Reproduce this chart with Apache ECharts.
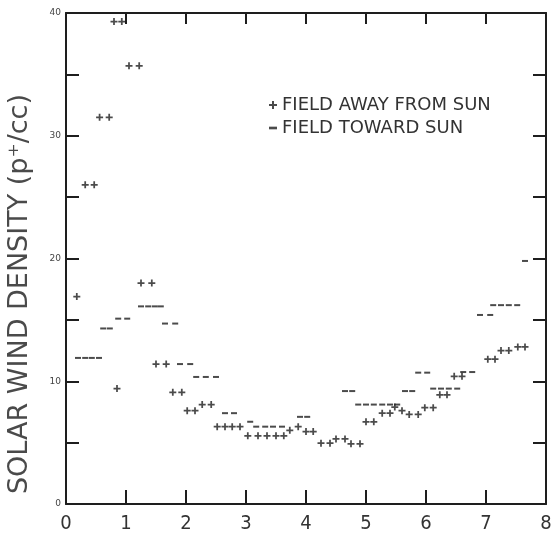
<!DOCTYPE html>
<html><head><meta charset="utf-8">
<script src="https://cdn.jsdelivr.net/npm/echarts@6/dist/echarts.min.js"></script>
<style>html,body{margin:0;padding:0;background:#fff}#c{width:560px;height:536px}</style>
</head><body><div id="c"></div>
<script>
// "+" marks: field away from sun
const awayX = [0.18, 0.32,0.47, 0.56,0.72, 0.80,0.93, 0.85, 1.05,1.22, 1.25,1.43, 1.50,1.67, 1.78,1.93,
  2.02,2.15, 2.27,2.42, 2.52,2.65,2.77,2.90, 3.03,3.20,3.35,3.50,3.63, 3.73, 3.87, 4.00,4.12,
  4.25,4.40, 4.50,4.65, 4.75,4.90, 5.00,5.13, 5.27,5.40, 5.48,5.60, 5.72,5.87, 5.98,6.12,
  6.23,6.35, 6.47,6.60, 7.03,7.15, 7.25,7.38, 7.53,7.65];
const awayY = [16.9, 26.0,26.0, 31.5,31.5, 39.3,39.3, 9.4, 35.7,35.7, 18.0,18.0, 11.4,11.4, 9.1,9.1,
  7.6,7.6, 8.1,8.1, 6.3,6.3,6.3,6.3, 5.55,5.55,5.55,5.55,5.55, 6.0, 6.3, 5.9,5.9,
  4.95,4.95, 5.3,5.3, 4.9,4.9, 6.7,6.7, 7.4,7.4, 7.9,7.6, 7.3,7.3, 7.85,7.85,
  8.9,8.9, 10.4,10.4, 11.8,11.8, 12.5,12.5, 12.8,12.8];
// "-" marks: field toward sun
const towardX = [0.20,0.32,0.43,0.55, 0.62,0.73, 0.87,1.02, 1.25,1.37,1.48,1.58, 1.65,1.82, 1.90,2.07,
  2.17,2.33,2.50, 2.65,2.80, 3.07, 3.17,3.32,3.45,3.60, 3.90,4.02, 4.65,4.77,
  4.87,5.00,5.13,5.27,5.40,5.52, 5.65,5.77, 5.87,6.02, 6.12,6.25,6.38,6.52, 6.62,6.77,
  6.90,7.07, 7.12,7.25,7.38,7.52, 7.65];
const towardY = [11.9,11.9,11.9,11.9, 14.3,14.3, 15.1,15.1, 16.1,16.1,16.1,16.1, 14.7,14.7, 11.4,11.4,
  10.35,10.35,10.35, 7.4,7.4, 6.7, 6.3,6.3,6.3,6.3, 7.1,7.1, 9.2,9.2,
  8.1,8.1,8.1,8.1,8.1,8.1, 9.2,9.2, 10.7,10.7, 9.4,9.4,9.4,9.4, 10.75,10.75,
  15.4,15.4, 16.2,16.2,16.2,16.2, 19.8];
const xTickLabels = ['0','1','2','3','4','5','6','7','8'];
const yTickLabels = ['0','10','20','30','40'];
const seriesNames = ['FIELD AWAY FROM SUN', 'FIELD TOWARD SUN'];
const yAxisTitle = 'SOLAR WIND DENSITY (p\u207A/cc)';

const plusPath = 'path://M3,0h2v3h3v2h-3v3h-2v-3h-3v-2h3z';
const dashPath = 'path://M0,0h6v2h-6z';
const ink = '#1e1e1e';

const chart = echarts.init(document.getElementById('c'), null, {renderer:'canvas'});
const axisLineStyle = {show:true, onZero:false, lineStyle:{color:ink, width:2}};
chart.setOption({
  animation:false,
  backgroundColor:'#fff',
  grid:{left:66, right:14, top:13, bottom:32, containLabel:false},
  legend:{
    orient:'vertical', left:264, top:91, itemGap:5, itemWidth:8, itemHeight:8,
    textStyle:{fontFamily:'DejaVu Sans', fontSize:18, color:'#333'},
    data:[{name:seriesNames[0], icon:plusPath},{name:seriesNames[1], icon:dashPath}]
  },
  xAxis:[{
    type:'value', min:0, max:8, interval:1, position:'bottom',
    axisLine:axisLineStyle,
    axisTick:{show:true, inside:true, length:14, lineStyle:{color:ink, width:2}},
    axisLabel:{show:true, margin:10, fontFamily:"'DejaVu Sans Condensed','Liberation Sans Narrow',sans-serif", fontSize:20, color:'#333',
      formatter:v => xTickLabels[Math.round(v)] || ''},
    splitLine:{show:false}
  },{
    type:'value', min:0, max:8, interval:1, position:'top',
    axisLine:axisLineStyle,
    axisTick:{show:true, inside:true, length:11, lineStyle:{color:ink, width:2}},
    axisLabel:{show:false}, splitLine:{show:false}
  }],
  yAxis:[{
    type:'value', min:0, max:40, interval:5, position:'left',
    axisLine:axisLineStyle,
    axisTick:{show:true, inside:true, length:13, lineStyle:{color:ink, width:2}},
    axisLabel:{show:true, margin:5, fontFamily:'DejaVu Sans', fontSize:9, color:'#444',
      formatter:v => (v % 10 === 0 ? yTickLabels[v/10] : '')},
    splitLine:{show:false}
  },{
    type:'value', min:0, max:40, interval:5, position:'right',
    axisLine:axisLineStyle,
    axisTick:{show:true, inside:true, length:13, lineStyle:{color:ink, width:2}},
    axisLabel:{show:false}, splitLine:{show:false}
  }],
  graphic:[{
    type:'text', left:6, top:94, rotation:Math.PI/2,
    style:{text:yAxisTitle, fontFamily:'DejaVu Sans', fontSize:27, fill:'#4a4a4a'}
  }],
  series:[{
    name:seriesNames[0], type:'scatter', xAxisIndex:0, yAxisIndex:0,
    symbol:plusPath, symbolSize:[7,7],
    itemStyle:{color:ink},
    data:awayX.map((x,i)=>[x, awayY[i]])
  },{
    name:seriesNames[1], type:'scatter', xAxisIndex:0, yAxisIndex:0,
    symbol:dashPath, symbolSize:[6,2],
    itemStyle:{color:ink},
    data:towardX.map((x,i)=>[x, towardY[i]])
  }]
});
</script></body></html>
